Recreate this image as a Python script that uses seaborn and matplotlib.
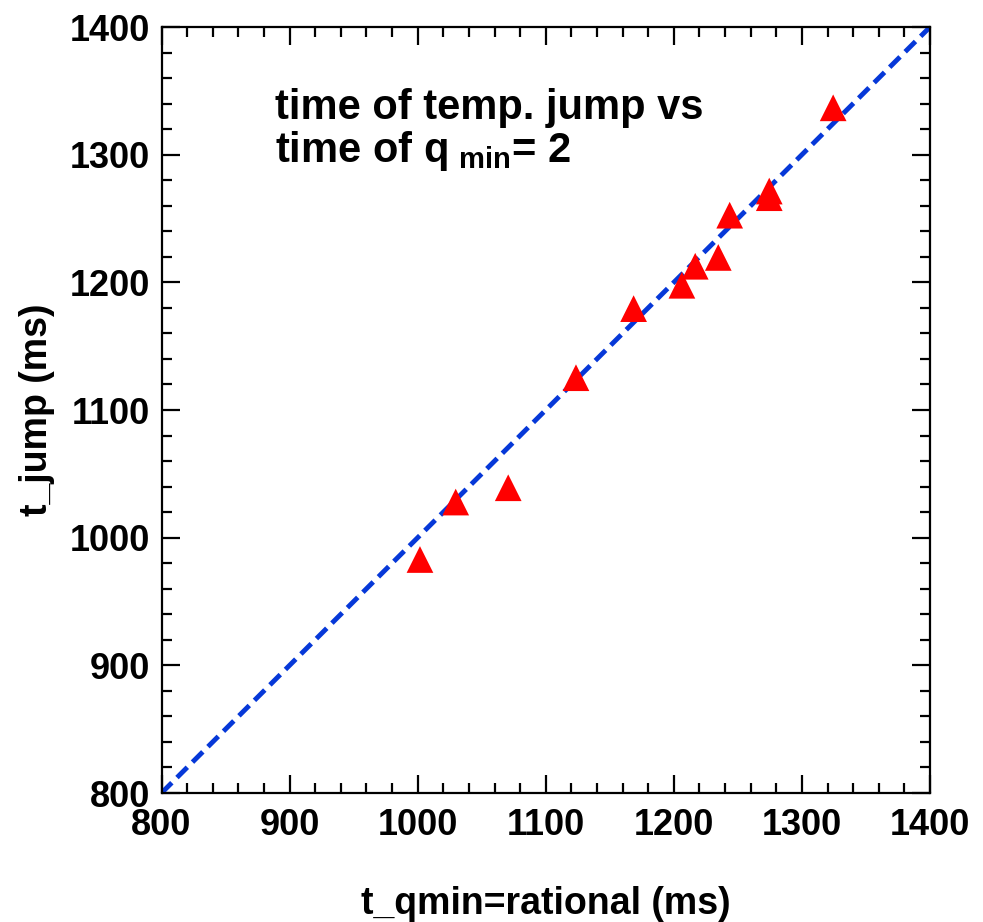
import matplotlib
matplotlib.use("Agg")
import matplotlib.pyplot as plt
import numpy as np
import pandas as pd
import seaborn as sns
from matplotlib.ticker import MultipleLocator

# données
t_qmin = [1001.8, 1029.7, 1070.7, 1123.6, 1168.6, 1206.3, 1216.7, 1234.7, 1243.6, 1274.5, 1274.5, 1324.4]
t_jump = [982.9, 1027.9, 1039.1, 1125.3, 1179.4, 1197.7, 1212.6, 1219.5, 1252.6, 1271.5, 1266.3, 1336.7]
ligne_x = [800, 1400]
ligne_y = [800, 1400]

sns.set_style("white")
plt.rcParams['font.family'] = ['Liberation Sans', 'DejaVu Sans']
plt.rcParams['font.weight'] = 'bold'
plt.rcParams['text.color'] = 'black'
plt.rcParams['axes.labelcolor'] = 'black'
plt.rcParams['xtick.color'] = 'black'
plt.rcParams['ytick.color'] = 'black'
plt.rcParams['mathtext.fontset'] = 'custom'
plt.rcParams['mathtext.rm'] = 'Liberation Sans:bold'
plt.rcParams['mathtext.bf'] = 'Liberation Sans:bold'
plt.rcParams['mathtext.default'] = 'bf'

data = pd.DataFrame({"t_qmin": t_qmin, "t_jump": t_jump})
diag = pd.DataFrame({"x": ligne_x, "y": ligne_y})

fig = plt.figure(figsize=(9.83, 9.22), dpi=100)
ax = fig.add_axes([161.5 / 983, 1 - 793 / 922, 768.5 / 983, 766 / 922])

sns.lineplot(data=diag, x="x", y="y", ax=ax, color="#0638d8", lw=3.5,
             linestyle=(0, (3.0, 1.5)), zorder=2)
sns.scatterplot(data=data, x="t_qmin", y="t_jump", ax=ax, marker="^",
                s=370, color="#ff0000", edgecolor="none", zorder=3)

ax.set_xlim(800, 1400)
ax.set_ylim(800, 1400)
ax.xaxis.set_major_locator(MultipleLocator(100))
ax.xaxis.set_minor_locator(MultipleLocator(20))
ax.yaxis.set_major_locator(MultipleLocator(100))
ax.yaxis.set_minor_locator(MultipleLocator(20))
ax.tick_params(which="both", direction="in", top=True, right=True,
               bottom=True, left=True, width=1.6, color="black")
ax.tick_params(which="major", length=13, labelsize=26)
ax.tick_params(axis="x", which="major", pad=11)
ax.tick_params(axis="y", which="major", pad=8)
ax.tick_params(which="minor", length=7)
for lab in ax.get_xticklabels() + ax.get_yticklabels():
    lab.set_fontweight("bold")
for sp in ax.spines.values():
    sp.set_linewidth(1.6)
    sp.set_color("black")

ax.set_xlabel("t_qmin=rational (ms)", fontsize=27, fontweight="bold")
ax.xaxis.set_label_coords(0.5, (793 - 904) / 766)
ax.xaxis.label.set_va("center")
ax.set_ylabel("t_jump (ms)", fontsize=27, fontweight="bold", labelpad=11)

ax.text(0.1477, 0.880, "time of temp. jump vs", transform=ax.transAxes,
        fontsize=30, fontweight="bold", va="baseline")
ax.text(0.1477, 0.8238, r"time of q$_{\ min}$= 2", transform=ax.transAxes,
        fontsize=30, fontweight="bold", va="baseline")

fig.savefig("out.png", dpi=100)
